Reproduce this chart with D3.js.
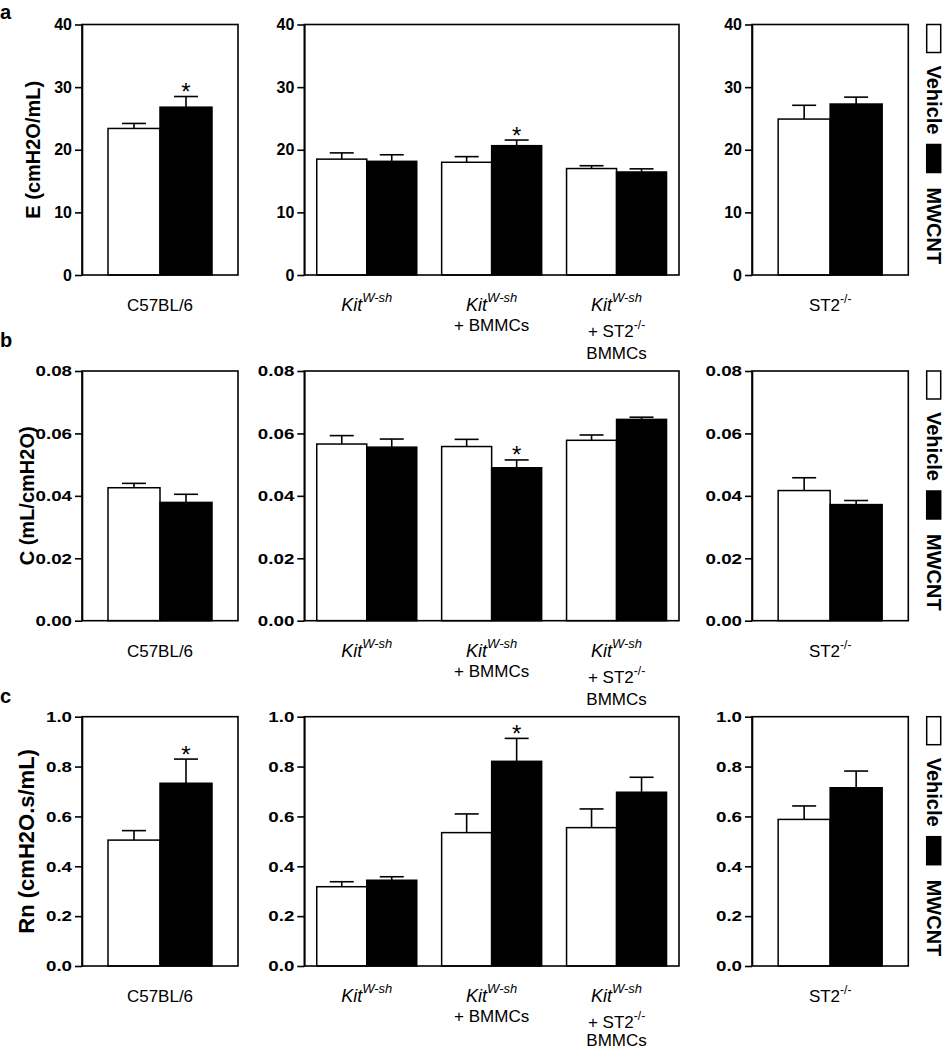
<!DOCTYPE html>
<html>
<head>
<meta charset="utf-8">
<script src="https://cdn.jsdelivr.net/npm/d3@7"></script>
<style>
  html, body { margin: 0; padding: 0; background: #fff; }
  svg { display: block; font-family: "Liberation Sans", Arial, sans-serif; }
</style>
</head>
<body>
<svg id="chart" width="944" height="1050"></svg>
<script>
// ---------------- DATA ----------------
const groups = ["C57BL/6", "KitW-sh", "KitW-sh + BMMCs", "KitW-sh + ST2-/- BMMCs", "ST2-/-"];
const series = ["Vehicle", "MWCNT"];

// E (cmH2O/mL)
const E_vehicle     = [23.4, 18.5, 18.0, 17.0, 24.9];
const E_vehicle_sem = [0.8, 1.0, 0.9, 0.45, 2.2];
const E_mwcnt       = [26.8, 18.15, 20.65, 16.45, 27.3];
const E_mwcnt_sem   = [1.7, 1.05, 0.9, 0.5, 1.1];
const E_sig         = [0, 2];          // groups with * on MWCNT
const E_ticks       = [0, 10, 20, 30, 40];

// C (mL/cmH2O)
const C_vehicle     = [0.0426, 0.0566, 0.0558, 0.0578, 0.0417];
const C_vehicle_sem = [0.0014, 0.0027, 0.0023, 0.0017, 0.0041];
const C_mwcnt       = [0.0379, 0.0556, 0.0490, 0.0645, 0.0372];
const C_mwcnt_sem   = [0.0026, 0.0026, 0.0025, 0.0007, 0.0013];
const C_sig         = [2];
const C_ticks       = [0, 0.02, 0.04, 0.06, 0.08];

// Rn (cmH2O.s/mL)
const Rn_vehicle     = [0.505, 0.318, 0.535, 0.555, 0.588];
const Rn_vehicle_sem = [0.038, 0.020, 0.075, 0.075, 0.054];
const Rn_mwcnt       = [0.733, 0.344, 0.821, 0.697, 0.715];
const Rn_mwcnt_sem   = [0.097, 0.014, 0.092, 0.060, 0.067];
const Rn_sig         = [0, 2];
const Rn_ticks       = [0, 0.2, 0.4, 0.6, 0.8, 1.0];

const panelLetters = ["a", "b", "c"];
const yTitles = ["E (cmH2O/mL)", "C (mL/cmH2O)", "Rn (cmH2O.s/mL)"];

// ---------------- LAYOUT ----------------
const svg = d3.select("#chart");
const rows = [
  { top: 24.5, bottom: 275, vehicle: E_vehicle, vsem: E_vehicle_sem, mwcnt: E_mwcnt, msem: E_mwcnt_sem, sig: E_sig, ticks: E_ticks, fmt: d3.format("d"), titleX: 39.5, titleSize: 20, letterY: 18.5, tickSize: 16, tickScale: 1 },
  { top: 371, bottom: 620.7, vehicle: C_vehicle, vsem: C_vehicle_sem, mwcnt: C_mwcnt, msem: C_mwcnt_sem, sig: C_sig, ticks: C_ticks, fmt: d3.format(".2f"), titleX: 33.5, titleSize: 20, letterY: 347, tickSize: 15, tickScale: 1.25 },
  { top: 716.7, bottom: 966, vehicle: Rn_vehicle, vsem: Rn_vehicle_sem, mwcnt: Rn_mwcnt, msem: Rn_mwcnt_sem, sig: Rn_sig, ticks: Rn_ticks, fmt: d3.format(".1f"), titleX: 33.5, titleSize: 22, letterY: 703, tickSize: 15, tickScale: 1.25 }
];
const cols = [
  { left: 82,    right: 238,   idx: [0],       barW: 52 },
  { left: 304.3, right: 679,   idx: [1, 2, 3], barW: 50 },
  { left: 752,   right: 908.3, idx: [4],       barW: 52 }
];

function drawCategoryLabel(g, gi, cx, base) {
  const norm = 17, sup = 12;
  function kit(y) {
    const tx = g.append("text").attr("x", cx).attr("y", y).attr("text-anchor", "middle")
      .style("font-style", "italic").style("font-size", "18px");
    tx.append("tspan").text("Kit");
    tx.append("tspan").attr("dy", -9).style("font-size", "13px").text("W-sh");
  }
  function plain(t, y) {
    g.append("text").attr("x", cx).attr("y", y).attr("text-anchor", "middle")
      .style("font-size", norm + "px").text(t);
  }
  function st2(prefix, y) {
    const tx = g.append("text").attr("x", cx).attr("y", y).attr("text-anchor", "middle")
      .style("font-size", norm + "px");
    tx.append("tspan").text(prefix + "ST2");
    tx.append("tspan").attr("dy", -8).style("font-size", sup + "px").text("-/-");
  }
  if (gi === 0) plain("C57BL/6", base);
  else if (gi === 1) kit(base);
  else if (gi === 2) { kit(base); plain("+ BMMCs", base + 20); }
  else if (gi === 3) { kit(base); st2("+ ", base + 26); plain("BMMCs", Math.min(base + 48, 1046)); }
  else if (gi === 4) st2("", base);
}

rows.forEach((r, ri) => {
  const y = d3.scaleLinear().domain([0, d3.max(r.ticks)]).range([r.bottom, r.top]);
  const sVals = { Vehicle: r.vehicle, MWCNT: r.mwcnt };
  const sSem = { Vehicle: r.vsem, MWCNT: r.msem };
  const sFill = { Vehicle: "#fff", MWCNT: "#000" };

  // panel letter
  svg.append("text").attr("x", 0).attr("y", r.letterY)
    .style("font-weight", "bold").style("font-size", "20px").text(panelLetters[ri]);

  // y title
  svg.append("text")
    .attr("transform", `translate(${r.titleX},${(r.top + r.bottom) / 2}) rotate(-90)`)
    .attr("text-anchor", "middle")
    .style("font-weight", "bold").style("font-size", r.titleSize + "px")
    .text(yTitles[ri]);

  cols.forEach(c => {
    const g = svg.append("g");
    const x0 = d3.scaleBand().domain(c.idx).range([c.left, c.right]).padding(0);
    const x1 = d3.scaleBand().domain(series).range([0, 2 * c.barW]).padding(0);
    const off = (x0.bandwidth() - 2 * c.barW) / 2;

    c.idx.forEach(gi => {
      series.forEach(s => {
        const v = sVals[s][gi], e = sSem[s][gi];
        const bx = x0(gi) + off + x1(s);
        const cx = bx + x1.bandwidth() / 2;
        g.append("line").attr("x1", cx).attr("x2", cx).attr("y1", y(v)).attr("y2", y(v + e))
          .attr("stroke", "#000").attr("stroke-width", 1.6);
        g.append("line").attr("x1", cx - 12).attr("x2", cx + 12).attr("y1", y(v + e)).attr("y2", y(v + e))
          .attr("stroke", "#000").attr("stroke-width", 1.6);
        g.append("rect").attr("x", bx).attr("y", y(v)).attr("width", x1.bandwidth())
          .attr("height", y(0) - y(v)).attr("fill", sFill[s])
          .attr("stroke", "#000").attr("stroke-width", 1.5);
        if (s === "MWCNT" && r.sig.includes(gi)) {
          g.append("text").attr("x", cx).attr("y", y(v + e) + 3.5).attr("text-anchor", "middle")
            .style("font-size", "24px").text("*");
        }
      });
      drawCategoryLabel(g, gi, x0(gi) + x0.bandwidth() / 2, r.bottom + 36);
    });

    g.append("rect").attr("x", c.left).attr("y", r.top)
      .attr("width", c.right - c.left).attr("height", r.bottom - r.top)
      .attr("fill", "none").attr("stroke", "#000").attr("stroke-width", 1.6);

    const ax = g.append("g").attr("transform", `translate(${c.left},0)`)
      .call(d3.axisLeft(y).tickValues(r.ticks).tickSize(7).tickSizeOuter(0).tickPadding(3).tickFormat(r.fmt));
    ax.select(".domain").attr("stroke-width", 1.6);
    ax.selectAll(".tick line").attr("stroke-width", 1.6);
    ax.selectAll(".tick text")
      .style("font-size", r.tickSize + "px").style("font-weight", "bold")
      .style("font-family", "'Liberation Sans', Arial, sans-serif").attr("fill", "#000")
      .attr("x", -10 / r.tickScale)
      .attr("transform", `scale(${r.tickScale},1)`);
  });

  // legend (rotated 90deg)
  const lg = svg.append("g").attr("transform", `translate(926.7,${r.top}) rotate(90)`);
  const legPos = [{ box: 0, text: 41 }, { box: 120, text: 163 }];
  series.forEach((s, i) => {
    lg.append("rect").attr("x", legPos[i].box).attr("y", -14).attr("width", 28).attr("height", 14)
      .attr("fill", sFill[s]).attr("stroke", "#000").attr("stroke-width", 1.5);
    lg.append("text").attr("x", legPos[i].text).attr("y", 0)
      .style("font-weight", "bold").style("font-size", "20px").text(s);
  });
});
</script>
</body>
</html>
